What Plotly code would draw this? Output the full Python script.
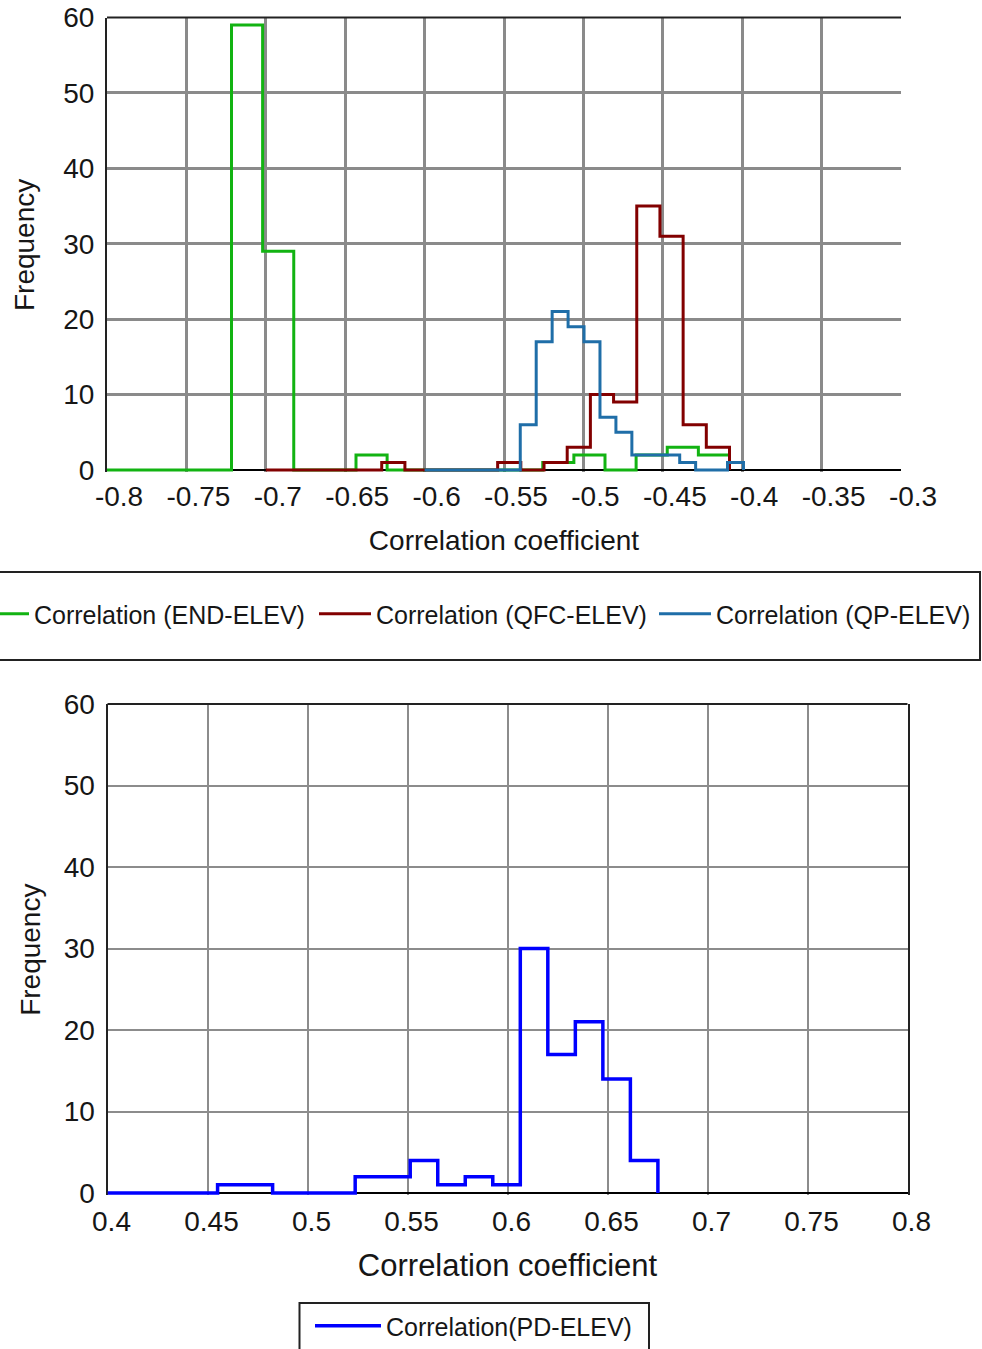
import numpy as np
import plotly.graph_objects as go

# ---------------- data ----------------
# Top panel: step histograms, each series has its own bin start / width / counts
end_start = -0.80
end_width = 0.0196
end_counts = [0, 0, 0, 0, 59, 29, 0, 0, 2, 0, 0, 0, 0, 0, 1, 2, 0, 2, 3, 2]

qfc_start = -0.70
qfc_width = 0.0146
qfc_counts = [0, 0, 0, 0, 0, 1, 0, 0, 0, 0, 1, 0, 1, 3, 10, 9, 35, 31, 6, 3]

qp_start = -0.60
qp_width = 0.01004
qp_counts = [0, 0, 0, 0, 0, 0, 6, 17, 21, 19, 17, 7, 5, 2, 2, 2, 1, 0, 0, 1]

# Bottom panel
pd_start = 0.40
pd_width = 0.01376
pd_counts = [0, 0, 0, 0, 1, 1, 0, 0, 0, 2, 2, 4, 1, 2, 1, 30, 17, 21, 14, 4]

top_xtick_vals = [-0.8, -0.75, -0.7, -0.65, -0.6, -0.55, -0.5, -0.45, -0.4, -0.35, -0.3]
top_xtick_text = ["-0.8", "-0.75", "-0.7", "-0.65", "-0.6", "-0.55", "-0.5", "-0.45", "-0.4", "-0.35", "-0.3"]
bot_xtick_vals = [0.4, 0.45, 0.5, 0.55, 0.6, 0.65, 0.7, 0.75, 0.8]
bot_xtick_text = ["0.4", "0.45", "0.5", "0.55", "0.6", "0.65", "0.7", "0.75", "0.8"]
ytick_vals = [0, 10, 20, 30, 40, 50, 60]
ytick_text = ["0", "10", "20", "30", "40", "50", "60"]

series_names = ["Correlation (END-ELEV)", "Correlation (QFC-ELEV)", "Correlation (QP-ELEV)"]
series_colors = ["#12b312", "#820000", "#1f6ea8"]
pd_name = "Correlation(PD-ELEV)"


def step_xy(start, width, counts):
    edges = start + width * np.arange(len(counts) + 1)
    x = np.concatenate([[edges[0]], edges[:-1], [edges[-1]]])
    y = np.concatenate([[0], np.asarray(counts, dtype=float), [0]])
    return x, y


FONT = "Liberation Sans, Arial, sans-serif"
TXT = "#161616"
H = 1349.0
W = 982.0

fig = go.Figure()

top_series = [
    (end_start, end_width, end_counts),
    (qfc_start, qfc_width, qfc_counts),
    (qp_start, qp_width, qp_counts),
]
legend_ids = ["legend", "legend3", "legend4"]
legend_text_x = [34, 376, 716]   # pixel x where each legend label starts
for (s, w, c), name, col, lg in zip(top_series, series_names, series_colors, legend_ids):
    x, y = step_xy(s, w, c)
    fig.add_trace(go.Scatter(x=x, y=y, mode="lines", name=name,
                             line=dict(color=col, width=3, shape="hv"),
                             xaxis="x", yaxis="y", legend=lg))

x, y = step_xy(pd_start, pd_width, pd_counts)
fig.add_trace(go.Scatter(x=x, y=y, mode="lines", name=pd_name,
                         line=dict(color="#0000ff", width=3.5, shape="hv"),
                         xaxis="x2", yaxis="y2", legend="legend2"))


def top_legend(text_x):
    return dict(orientation="h", x=(text_x - 62) / W, xanchor="left", y=1 - 614 / H, yanchor="middle",
                font=dict(size=25, color=TXT, family=FONT), itemwidth=52,
                bgcolor="rgba(0,0,0,0)", borderwidth=0)


fig.update_layout(
    width=982, height=1349,
    margin=dict(l=0, r=0, t=0, b=0, autoexpand=False),
    paper_bgcolor="white", plot_bgcolor="white",
    font=dict(family=FONT, color=TXT),
    xaxis=dict(domain=[107 / W, 901 / W], range=[-0.8, -0.3], anchor="y",
               tickmode="array", tickvals=top_xtick_vals, ticktext=top_xtick_text,
               showgrid=True, gridcolor="#8a8a8a", gridwidth=2.5,
               showline=False, zeroline=False, ticks="",
               tickfont=dict(size=28, color=TXT, family=FONT),
               ticklabelshift=12, ticklabelstandoff=5,
               title=dict(text="Correlation coefficient", font=dict(size=28, color=TXT, family=FONT), standoff=19),
               automargin=False, layer="below traces"),
    yaxis=dict(domain=[1 - 472.26 / H, 1 - 17.5 / H], range=[-0.3, 60], anchor="x",
               tickmode="array", tickvals=ytick_vals, ticktext=ytick_text,
               showgrid=True, gridcolor="#8a8a8a", gridwidth=2.5,
               zeroline=True, zerolinecolor="black", zerolinewidth=2,
               showline=True, linecolor="#222", linewidth=2, mirror=False, ticks="",
               tickfont=dict(size=28, color=TXT, family=FONT), ticklabelstandoff=5,
               title=dict(text="Frequency", font=dict(size=28, color=TXT, family=FONT), standoff=20),
               automargin=False, layer="below traces"),
    xaxis2=dict(domain=[107.5 / W, 907.5 / W], range=[0.4, 0.8], anchor="y2",
                tickmode="array", tickvals=bot_xtick_vals, ticktext=bot_xtick_text,
                showgrid=True, gridcolor="#8c8c8c", gridwidth=1.8,
                showline=False, zeroline=False, ticks="",
                tickfont=dict(size=28, color=TXT, family=FONT), ticklabelshift=4, ticklabelstandoff=7,
                title=dict(text="Correlation coefficient", font=dict(size=31, color=TXT, family=FONT), standoff=17),
                automargin=False, layer="below traces"),
    yaxis2=dict(domain=[1 - 1195.45 / H, 1 - 704 / H], range=[-0.3, 60], anchor="x2",
                tickmode="array", tickvals=ytick_vals, ticktext=ytick_text,
                showgrid=True, gridcolor="#8c8c8c", gridwidth=1.8,
                zeroline=True, zerolinecolor="black", zerolinewidth=2,
                showline=True, linecolor="#222", linewidth=2, mirror=True, ticks="",
                tickfont=dict(size=28, color=TXT, family=FONT), ticklabelstandoff=5,
                title=dict(text="Frequency", font=dict(size=28, color=TXT, family=FONT), standoff=15),
                automargin=False, layer="below traces"),
    legend=top_legend(legend_text_x[0]),
    legend3=top_legend(legend_text_x[1]),
    legend4=top_legend(legend_text_x[2]),
    legend2=dict(orientation="h", x=(386 - 76) / W, xanchor="left", y=1 - 1326 / H, yanchor="middle",
                 font=dict(size=25, color=TXT, family=FONT), itemwidth=66,
                 bgcolor="rgba(0,0,0,0)", borderwidth=0),
    showlegend=True,
    shapes=[
        # top border of upper panel
        dict(type="line", xref="x domain", yref="y domain", x0=0, x1=1, y0=1, y1=1,
             line=dict(color="#222", width=2)),
        # top border of lower panel
        dict(type="line", xref="x2 domain", yref="y2 domain", x0=0, x1=1, y0=1, y1=1,
             line=dict(color="#222", width=2)),
        # legend frames
        dict(type="rect", xref="paper", yref="paper", x0=-3 / W, x1=980 / W,
             y0=1 - 660 / H, y1=1 - 572 / H, line=dict(color="#222", width=2)),
        dict(type="rect", xref="paper", yref="paper", x0=299.5 / W, x1=649 / W,
             y0=-0.01, y1=1 - 1303 / H, line=dict(color="#222", width=2)),
    ],
)

fig.write_html("out.html", config={"displayModeBar": False},
               post_script="document.body.style.margin='0';document.body.style.overflow='hidden';")
